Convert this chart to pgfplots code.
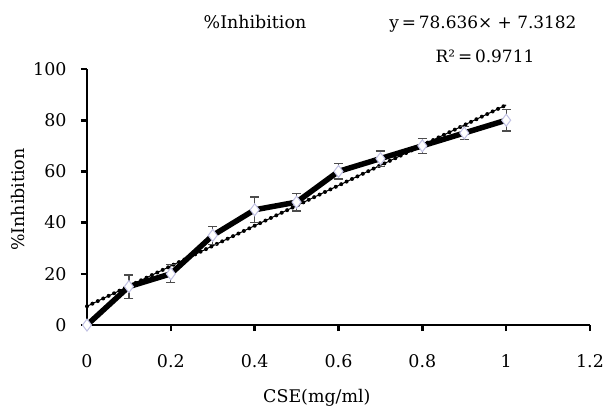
\documentclass[border=0pt]{standalone}
\usepackage{pgfplots}
\pgfplotsset{compat=1.18}
\usepackage{fontspec}
\setmainfont{DejaVu Serif}

\pgfplotstableread{
x    y    err
0    0    0
0.1  15   4.5
0.2  20   3.5
0.3  35   3.5
0.4  45   5
0.5  48   3.5
0.6  60   3
0.7  65   3
0.8  70   3
0.9  75   2.5
1.0  80   4.2
}\inhib

\begin{document}
\begin{tikzpicture}[x=1bp,y=1bp]
\path[use as bounding box] (-87,-86) rectangle (516,325);
\begin{axis}[
    at={(0,0)}, anchor=south west,
    scale only axis,
    width=503bp, height=256bp,
    xmin=0, xmax=1.2, ymin=0, ymax=100,
    axis x line*=bottom, axis y line*=left,
    axis line style={line width=2.8bp, black},
    xtick={0,0.2,0.4,0.6,0.8,1,1.2},
    ytick={0,20,40,60,80,100},
    xticklabels={0,0.2,0.4,0.6,0.8,1,1.2},
    tick align=outside,
    major tick length=6bp,
    tick style={line width=2.6bp, black},
    font=\fontsize{17.5}{21}\selectfont,
    /pgf/number format/assume math mode=true,
    xticklabel style={yshift=-20bp},
    yticklabel style={xshift=-11bp},
    title={\%Inhibition},
    title style={at={(axis description cs:0.334,1.16)}, anchor=center},
    xlabel={CSE(mg/ml)},
    xlabel style={at={(axis description cs:0.457,-0.286)}, anchor=center},
    ylabel={\%Inhibition},
    ylabel style={at={(axis description cs:-0.137,0.49)}, anchor=center},
    clip=false,
]
% linear trendline
\addplot[black, line width=1bp] coordinates {(0,7.3182) (1,85.954)};
\addplot[black, line width=4bp, dash pattern=on 0bp off 6bp, line cap=round] coordinates {(0,7.3182) (1,85.954)};
% data with error bars
\addplot[black, line width=5.5bp,
    mark=diamond*, mark size=6bp,
    mark options={fill=white, draw=gray!60!blue!35, line width=1bp},
    error bars/.cd, y dir=both, y explicit,
    error bar style={line width=1.2bp, black!70},
    error mark options={rotate=90, mark size=4.5bp, line width=1.2bp, black!70},
] table[x=x, y=y, y error=err] {\inhib};
\end{axis}
\node at (396,301) {\fontsize{17}{21}\selectfont y\,=\,78.636× + 7.3182};
\node at (398,269) {\fontsize{17}{21}\selectfont R²\,=\,0.9711};
\end{tikzpicture}
\end{document}
